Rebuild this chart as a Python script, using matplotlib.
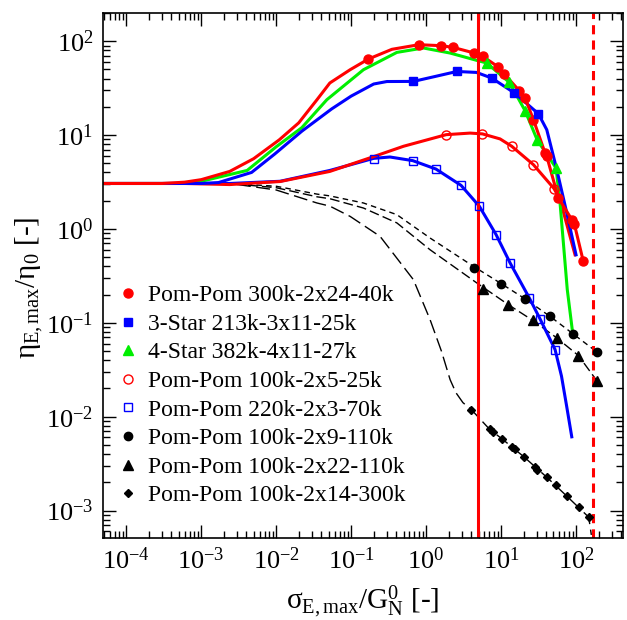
import numpy as np
import matplotlib.pyplot as plt
from matplotlib.ticker import LogLocator, NullFormatter

plt.rcParams['font.family'] = 'Liberation Serif'
plt.rcParams['mathtext.fontset'] = 'custom'
plt.rcParams['mathtext.rm'] = 'Liberation Serif'
plt.rcParams['mathtext.it'] = 'Liberation Serif:italic'
plt.rcParams['mathtext.bf'] = 'Liberation Serif:bold'

# Pom-Pom 300k-2x24-40k (red, filled circles)
rf_x = [0.170, 0.80, 1.58, 2.27, 4.40, 5.70, 9.2, 11.0, 17.5, 20.9, 27.0, 38.6, 40.7, 58.1, 87.7, 94.9, 125]
rf_y = [64.6, 91.8, 89.6, 85.9, 74.8, 68.9, 53.1, 44.8, 29.7, 24.8, 14.6, 6.45, 5.93, 2.14, 1.26, 1.13, 0.452]
rf_cx = [5e-5, 3e-4, 6e-4, 1.0e-3, 2.4e-3, 5e-3, 1.1e-2, 2e-2, 3.5e-2, 5.2e-2, 0.097, 0.17, 0.35, 0.8, 1.6,
         2.3, 4.4, 5.7, 9.2, 11.0, 17.5, 20.9, 27.0, 38.6, 40.7, 58.1, 87.7, 94.9, 125]
rf_cy = [3.05, 3.05, 3.15, 3.35, 4.1, 5.6, 8.9, 13.5, 23.8, 35.9, 49.7, 64.6, 82.0, 91.8, 89.6,
         85.9, 74.8, 68.9, 53.1, 44.8, 29.7, 24.8, 14.6, 6.45, 5.93, 2.14, 1.26, 1.13, 0.452]

# 3-Star 213k-3x11-25k (blue, filled squares)
bf_x = [0.677, 2.57, 7.5, 15.1, 31.4]
bf_y = [37.3, 47.6, 40.5, 28.1, 16.9]
bf_cx = [5e-5, 1e-3, 1.7e-3, 4.7e-3, 9.6e-3, 2.2e-2, 5.5e-2, 0.1, 0.2, 0.3, 0.677, 1.3, 2.57, 4.7,
         7.5, 15.1, 31.4, 40.7, 55.4, 75.3, 100]
bf_cy = [3.05, 3.05, 3.12, 4.0, 6.3, 11.0, 19.0, 26.0, 35.0, 37.2, 37.3, 42.0, 47.6, 46.5,
         40.5, 28.1, 16.9, 11.4, 4.28, 1.48, 0.53]

# 4-Star 382k-4x11-27k (green, triangles)
gs_x = [6.44, 12.9, 20.9, 30.5, 54.1]
gs_y = [58.6, 36.4, 18.2, 8.79, 4.46]
gs_cx = [5e-5, 5e-4, 9.7e-4, 4.1e-3, 1e-2, 2.2e-2, 4.74e-2, 0.146, 0.407, 0.92, 2.09, 4.74, 6.44,
         12.9, 20.9, 30.5, 54.1, 61.2, 76.4, 90.4]
gs_cy = [3.05, 3.05, 3.2, 4.2, 7.5, 12.0, 23.8, 49.7, 76.0, 84.7, 74.8, 62.5, 58.6,
         36.4, 18.2, 8.79, 4.46, 1.89, 0.226, 0.0767]

# Pom-Pom 100k-2x5-25k (red, open circles)
ro_x = [1.85, 5.63, 13.9, 27.0, 50.9]
ro_y = [10.1, 10.3, 7.59, 4.84, 2.69]
ro_cx = [5e-5, 6e-4, 2.4e-3, 1.13e-2, 5.2e-2, 0.2, 0.5, 1.85, 3.86, 5.63, 9.7, 13.9, 27.0,
         50.9, 61.2, 76.4, 97]
ro_cy = [3.05, 3.05, 2.97, 3.2, 4.1, 5.9, 7.6, 10.1, 10.5, 10.3, 9.1, 7.59, 4.84,
         2.69, 2.05, 1.07, 0.53]

# Pom-Pom 220k-2x3-70k (blue, open squares)
bo_x = [0.203, 0.664, 1.35, 2.93, 5.14, 8.58, 13.2, 23.8, 33.1, 52.5]
bo_y = [5.61, 5.34, 4.35, 2.91, 1.74, 0.87, 0.434, 0.184, 0.110, 0.0519]
bo_cx = [5e-5, 1e-3, 2.4e-3, 1.13e-2, 5.2e-2, 0.2, 0.33, 0.664, 1.35, 2.93, 5.14, 8.58, 13.2,
         23.8, 33.1, 52.5, 64, 75, 87.7]
bo_cy = [3.05, 3.05, 3.05, 3.22, 4.2, 5.65, 5.84, 5.34, 4.35, 2.91, 1.74, 0.87, 0.434,
         0.184, 0.110, 0.0519, 0.027, 0.0129, 0.0061]

# Pom-Pom 100k-2x9-110k (black circles, short dashes)
kc_x = [4.37, 10.0, 20.9, 45.0, 90.4, 189]
kc_y = [0.384, 0.26, 0.18, 0.117, 0.0767, 0.049]
kc_cx = [5e-4, 3e-3, 1e-2, 3.5e-2, 5.2e-2, 0.146, 0.407, 1.13, 4.27, 9.7, 20.9, 45.0, 90.4, 189]
kc_cy = [3.05, 3.02, 2.85, 2.35, 2.25, 1.89, 1.42, 0.80, 0.40, 0.266, 0.18, 0.117, 0.0767, 0.049]

# Pom-Pom 100k-2x22-110k (black triangles, medium dashes)
kt_x = [5.7, 12.5, 26.5, 55.4, 107.5, 192]
kt_y = [0.23, 0.156, 0.106, 0.069, 0.0448, 0.0238]
kt_cx = [5e-4, 3e-3, 1e-2, 3.5e-2, 5.2e-2, 0.146, 0.407, 1.13, 4.74, 12.5, 26.5, 55.4, 107.5, 192]
kt_cy = [3.05, 3.0, 2.75, 2.2, 2.1, 1.67, 1.16, 0.60, 0.266, 0.156, 0.106, 0.069, 0.0448, 0.0238]

# Pom-Pom 100k-2x14-300k (black diamonds, long dashes)
kd_x = [4.01, 7.07, 7.8, 10.3, 13.8, 15.3, 20.2, 28.4, 30.6, 40.8, 54.5, 75.6, 108.7, 147.6]
kd_y = [0.0119, 0.0073, 0.0068, 0.0058, 0.00472, 0.00447, 0.00373, 0.00292, 0.00273,
        0.00226, 0.00185, 0.00142, 0.00108, 0.00085]
kd_cx = [5e-4, 3e-3, 1e-2, 3.5e-2, 5.2e-2, 0.097, 0.243, 0.677, 1.13, 1.6, 2.09, 2.5, 3.1,
         4.01, 7.07, 10.3, 20.2, 40.8, 75.6, 147.6, 160]
kd_cy = [3.05, 2.98, 2.6, 1.89, 1.75, 1.36, 0.834, 0.288, 0.108, 0.05, 0.0248, 0.018, 0.0141,
         0.0119, 0.0073, 0.0058, 0.00373, 0.00226, 0.00142, 0.00085, 0.00055]

# vertical reference lines
x_solid = 4.93
x_dash = 171

labels = ["Pom-Pom 300k-2x24-40k", "3-Star 213k-3x11-25k", "4-Star 382k-4x11-27k",
          "Pom-Pom 100k-2x5-25k", "Pom-Pom 220k-2x3-70k", "Pom-Pom 100k-2x9-110k",
          "Pom-Pom 100k-2x22-110k", "Pom-Pom 100k-2x14-300k"]

# decades that carry a label
x_decades = [1e-4, 1e-3, 1e-2, 1e-1, 1e0, 1e1, 1e2]
y_decades = [1e-3, 1e-2, 1e-1, 1e0, 1e1, 1e2]

red = "#ff0000"
blue = "#0000ff"
green = "#00ee00"

fig = plt.figure(figsize=(6.27, 6.20), dpi=100)
ax = fig.add_axes([0.1643, 0.1323, 0.8293, 0.8468])

# dashed model lines
ax.plot(kc_cx, kc_cy, color="k", lw=1.0, dashes=(4, 3))
ax.plot(kt_cx, kt_cy, color="k", lw=1.0, dashes=(7, 3))
ax.plot(kd_cx, kd_cy, color="k", lw=1.0, dashes=(10, 4))

# solid coloured lines
ax.plot(bo_cx, bo_cy, color=blue, lw=2.2)
ax.plot(ro_cx, ro_cy, color=red, lw=2.2)
ax.plot(gs_cx, gs_cy, color=green, lw=2.2)
ax.plot(bf_cx, bf_cy, color=blue, lw=2.2)
ax.plot(rf_cx, rf_cy, color=red, lw=2.2)

ax.axvline(x_solid, color=red, lw=2.2)
ax.axvline(x_dash, color=red, lw=2.2, dashes=(3, 2))

h = []
h += ax.plot(rf_x, rf_y, "o", color=red, ms=6.5, ls="none", label=labels[0])
h += ax.plot(bf_x, bf_y, "s", color=blue, ms=6, ls="none", label=labels[1])
h += ax.plot(gs_x, gs_y, "^", color=green, ms=6.5, ls="none", label=labels[2])
h += ax.plot(ro_x, ro_y, "o", mfc="none", mec=red, mew=1.0, ms=6.5, ls="none", label=labels[3])
h += ax.plot(bo_x, bo_y, "s", mfc="none", mec=blue, mew=1.0, ms=6, ls="none", label=labels[4])
h += ax.plot(kc_x, kc_y, "o", color="k", ms=6, ls="none", label=labels[5])
h += ax.plot(kt_x, kt_y, "^", color="k", ms=6.5, ls="none", label=labels[6])
h += ax.plot(kd_x, kd_y, "D", color="k", ms=4.5, ls="none", label=labels[7])

ax.set_xscale("log")
ax.set_yscale("log")
ax.set_xticks(x_decades)
ax.set_yticks(y_decades)
for a in (ax.xaxis, ax.yaxis):
    a.set_minor_locator(LogLocator(base=10, subs=np.arange(2, 10), numticks=100))
    a.set_minor_formatter(NullFormatter())
ax.set_xlim(4.9e-5, 423)
ax.set_ylim(5.1e-4, 200)

ax.tick_params(which="both", direction="in", top=True, right=True, width=1.0)
ax.tick_params(which="major", length=9.5, labelsize=19)
ax.tick_params(which="minor", length=5)
ax.tick_params(axis="x", which="major", pad=7)
ax.tick_params(axis="y", which="major", pad=7)
for s in ax.spines.values():
    s.set_linewidth(1.2)

ax.set_xlabel(r"σ$_{\mathrm{E,max}}$/G$_{\mathrm{N}}^{0}$ [-]", fontsize=21)
ax.set_ylabel(r"η$_{\mathrm{E,max}}$/η$_{0}$ [-]", fontsize=21)
ax.xaxis.set_label_coords(0.5, -0.088)
ax.yaxis.set_label_coords(-0.112, 0.476)

ax.legend(handles=h, loc="upper left", bbox_to_anchor=(0.008, 0.505), frameon=False,
          fontsize=17, handlelength=0.8, handletextpad=0.45, labelspacing=0.30,
          borderaxespad=0.3, borderpad=0.2)

fig.savefig("out.png", dpi=100)
